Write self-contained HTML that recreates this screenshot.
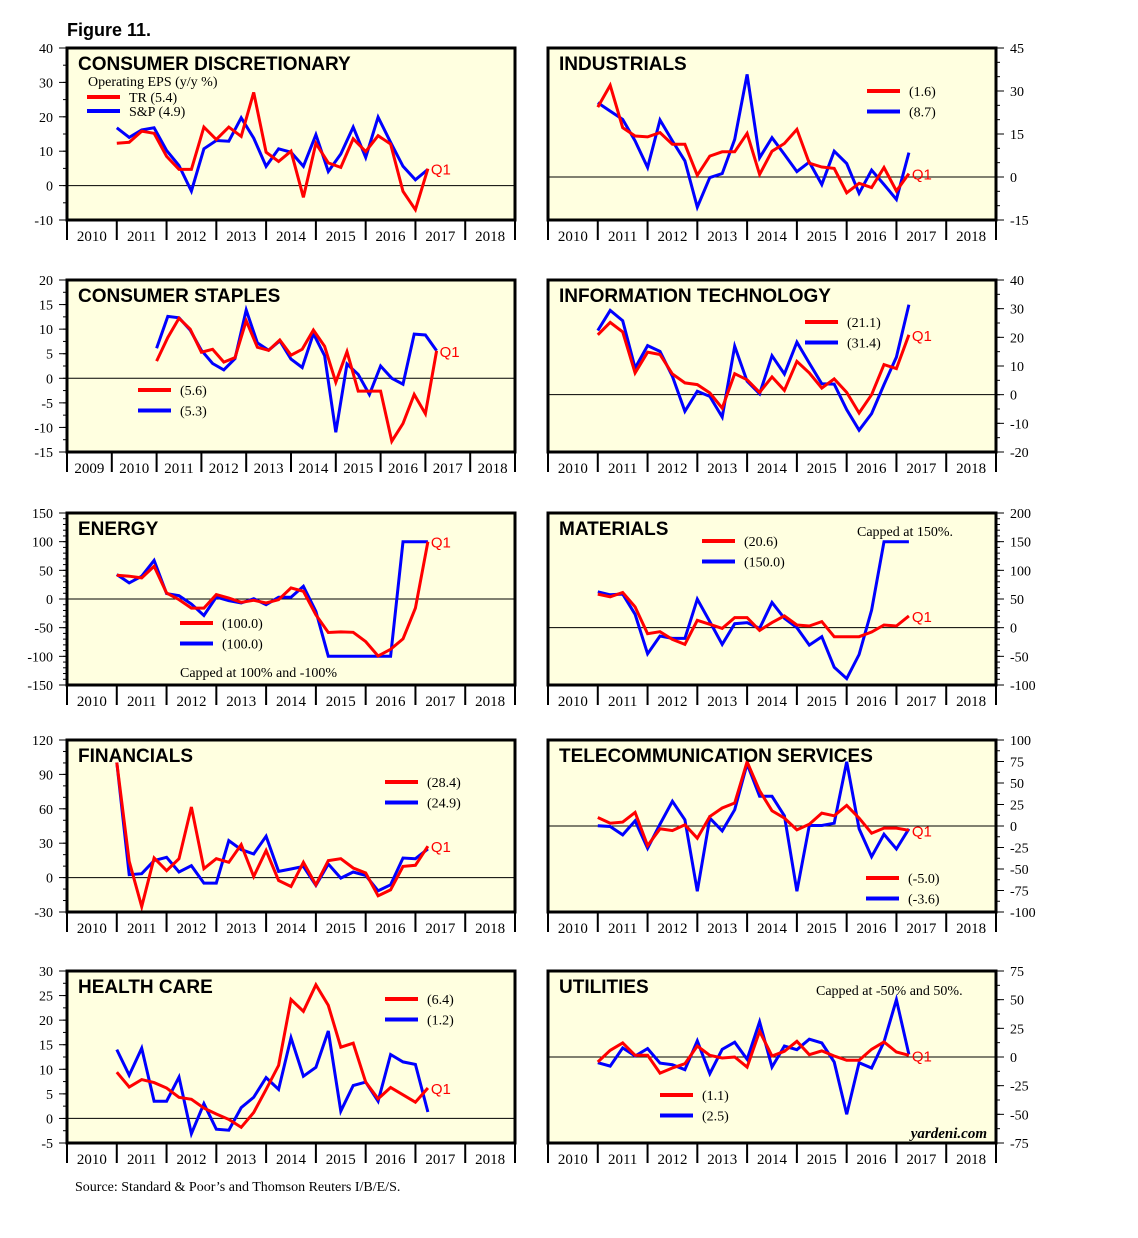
<!DOCTYPE html>
<html><head><meta charset="utf-8"><style>
body{margin:0;background:#fff}
svg text{font-family:"Liberation Serif",serif}
svg text.t{font-family:"Liberation Sans",sans-serif;font-weight:bold;font-size:19px}
svg text.q{font-family:"Liberation Sans",sans-serif;font-size:15px}
</style></head><body>
<svg id="fig" width="1138" height="1233" viewBox="0 0 1138 1233" xmlns="http://www.w3.org/2000/svg">
<rect width="1138" height="1233" fill="#fff"/>
<text x="67" y="36" class="t" style="font-size:18px">Figure 11.</text>
<text x="75" y="1191" font-size="14">Source: Standard &amp; Poor’s and Thomson Reuters I/B/E/S.</text>
</svg>
<script>
// quarterly data, first point 2011.0, step 0.25
const cdTR=[12.3,12.6,15.8,15.2,8.5,4.7,4.7,17,13.4,17,14.3,27.1,9.7,7,10,-3.4,12.3,6.6,5.3,13.6,9.9,14.5,12.1,-1.7,-7,4.9];
const cdSP=[16.8,14,16.2,16.8,10.2,5.8,-1.6,10.7,13.1,12.9,19.7,13.8,5.6,10.7,9.7,5.6,14.8,4.1,9.2,17,8.2,19.9,12.6,5.6,1.7,4.7];
const inTR=[24.4,32,17.2,14.3,14,15.5,11.4,11.4,0.6,7.3,8.8,8.8,15.2,0.9,9,11.7,16.6,4.8,3.5,3,-5.5,-2.2,-3.7,3.3,-4.9,1.2];
const inSP=[25.9,23,20.1,12.6,3.3,19.9,12.6,5.6,-10.5,-0.2,1.2,13.1,35.8,6.7,13.7,7.9,1.9,5.2,-2.6,9,4.7,-5.7,2.4,-2.6,-7.8,8.5];
const csTR=[3.5,8.3,12.2,10,5.3,5.9,3.3,4.2,11.7,6.3,5.7,7.8,4.7,5.9,9.8,6.5,-0.8,5.4,-2.6,-2.6,-2.6,-12.8,-9.2,-3.3,-7.2,5.6];
const csSP=[6.1,12.6,12.3,9.8,5.7,3,1.7,4,13.9,7.2,5.7,7.6,3.9,2.2,9.1,4.6,-11,2.9,0.8,-3.3,2.5,0,-1.2,9,8.8,5.6];
const itTR=[20.9,25.2,21.9,7.6,14.8,14,7.2,4.1,3.5,0.6,-4.7,7.3,5.2,0.8,6.2,1.5,11.6,7.6,2.3,5.5,0.8,-6.4,0,10.5,9.1,20.9];
const itSP=[22.4,29.4,25.8,9.3,17.1,15.1,6.4,-5.8,1.2,-0.6,-7.8,16.9,4.7,0.3,13.6,7.2,18.3,11,3.8,3.7,-5.2,-12.4,-6.6,3.5,13.1,31.4];
const enTR=[41.5,39.8,36.8,57,10.5,-1,-15.8,-15.8,7.6,1.8,-5.8,-2.3,-7,-1.2,19.3,13.5,-27.5,-58.5,-57.3,-58,-74.3,-99.4,-87.7,-69.6,-15.8,100];
const enSP=[42.7,28,39.8,67.3,9.4,5.8,-8.8,-28.7,3.5,-2.9,-7,0.6,-10,2.9,2.9,22.2,-21.6,-100,-100,-100,-100,-100,-100,100,100,100];
const maTR=[58.5,53.8,61.4,36.3,-10.5,-7,-20.5,-29.2,12.9,5.8,-1.2,17.5,17.5,-4.7,8.8,20.5,4.7,2.9,10.5,-15.8,-15.8,-15.8,-7.6,4.7,2.9,20.5];
const maSP=[62.6,57.3,58.5,23.4,-45.6,-14.6,-18.7,-18.7,49.7,10.5,-29.2,7,8.8,-1.2,43.9,16.4,0,-30.4,-15.8,-69,-88.9,-46.8,30.4,150,150,150];
const fiTR=[100.4,14.2,-25.3,17.1,6,16.5,61.6,7.8,16.5,13.3,28.8,1,23.6,-2.5,-7.8,13.3,-6.3,14.8,16.5,8.4,4,-15.9,-10.6,9.8,10.7,27.4];
const fiSP=[100.4,2.5,3.4,14.8,17.7,4.9,10.4,-4.8,-4.8,32.3,24.4,20.6,36.1,5.4,7.5,9.8,-6.8,11.9,-0.4,4.9,1.9,-11.5,-6.3,17.1,16.5,25];
const teTR=[9.9,3.3,4.5,15.8,-22.8,-3.3,-5.3,1.4,-14.2,11.1,20.9,26.7,74.7,41.1,17.7,9.2,-4.5,2.1,15,11.9,24,9.2,-8.4,-2.5,-2.5,-5];
const teSP=[0.2,-0.6,-10.3,6,-25.9,2.1,28.7,7.2,-75.8,9.2,-5.7,18.9,72.3,34.5,34.5,11.9,-75.8,0.6,0.6,3.3,74.7,-3.3,-35.7,-9.6,-26.7,-3.3];
const hcTR=[9.4,6.4,7.9,7.3,6.2,4.3,3.9,2.1,0.9,-0.2,-1.8,1.2,5.9,10.8,24.2,21.8,27.2,23,14.5,15.3,7.4,4,6.3,4.8,3.3,6.2];
const hcSP=[14,8.8,14.3,3.5,3.5,8.4,-3.1,3,-2.2,-2.4,2.2,4.3,8.3,5.9,16.4,8.6,10.4,17.8,1.5,6.7,7.4,3.5,13,11.5,11,1.3];
const utTR=[-4.4,5.8,12.3,1.5,1.5,-14,-9.6,-5.8,9.6,1.5,-0.9,0,-8.8,22.5,0.9,5,13.7,2,5.3,0.9,-2.9,-2.9,6.7,13.2,4.4,1.5];
const utSP=[-5,-7.9,7.9,0.9,7.3,-5.3,-6.7,-11.1,14,-14.6,6.7,12.9,-2,30.7,-8.8,9.6,6.4,15.5,12.3,-4.4,-50,-5,-9.6,13.2,50,2.3];
const yearsA=["2010","2011","2012","2013","2014","2015","2016","2017","2018"];
const yearsB=["2009","2010","2011","2012","2013","2014","2015","2016","2017","2018"];
const cdTicks=[40,30,20,10,0,-10];
const inTicks=[45,30,15,0,-15];
const csTicks=[20,15,10,5,0,-5,-10,-15];
const itTicks=[40,30,20,10,0,-10,-20];
const enTicks=[150,100,50,0,-50,-100,-150];
const maTicks=[200,150,100,50,0,-50,-100];
const fiTicks=[120,90,60,30,0,-30];
const teTicks=[100,75,50,25,0,-25,-50,-75,-100];
const hcTicks=[30,25,20,15,10,5,0,-5];
const utTicks=[75,50,25,0,-25,-50,-75];
const legCD=["TR (5.4)","S&P (4.9)"],legIN=["(1.6)","(8.7)"],legCS=["(5.6)","(5.3)"],legIT=["(21.1)","(31.4)"],legEN=["(100.0)","(100.0)"],legMA=["(20.6)","(150.0)"],legFI=["(28.4)","(24.9)"],legTE=["(-5.0)","(-3.6)"],legHC=["(6.4)","(1.2)"],legUT=["(1.1)","(2.5)"];

const svg=document.getElementById('fig');
const NS="http://www.w3.org/2000/svg";
function mk(tag,at,parent){const e=document.createElementNS(NS,tag);for(const k in at)e.setAttribute(k,at[k]);(parent||svg).appendChild(e);return e;}
const panels=[
 {id:'consumer-discretionary',title:'CONSUMER DISCRETIONARY',x:67,y:48,side:'L',min:-10,max:40,minor:5,ticks:cdTicks,years:yearsA,start:2010,red:cdTR,blue:cdSP,leg:legCD,lx:87,ly:97,lsp:14,extra:[[88,86,'Operating EPS (y/y %)']]},
 {id:'industrials',title:'INDUSTRIALS',x:548,y:48,side:'R',min:-15,max:45,minor:5,ticks:inTicks,years:yearsA,start:2010,red:inTR,blue:inSP,leg:legIN,lx:867,ly:91},
 {id:'consumer-staples',title:'CONSUMER STAPLES',x:67,y:280,side:'L',min:-15,max:20,minor:2.5,ticks:csTicks,years:yearsB,start:2009,red:csTR,blue:csSP,leg:legCS,lx:138,ly:390},
 {id:'information-technology',title:'INFORMATION TECHNOLOGY',x:548,y:280,side:'R',min:-20,max:40,minor:5,ticks:itTicks,years:yearsA,start:2010,red:itTR,blue:itSP,leg:legIT,lx:805,ly:322},
 {id:'energy',title:'ENERGY',x:67,y:513,side:'L',min:-150,max:150,minor:10,ticks:enTicks,years:yearsA,start:2010,red:enTR,blue:enSP,leg:legEN,lx:180,ly:623,extra:[[180,677,'Capped at 100% and -100%']]},
 {id:'materials',title:'MATERIALS',x:548,y:513,side:'R',min:-100,max:200,minor:10,ticks:maTicks,years:yearsA,start:2010,red:maTR,blue:maSP,leg:legMA,lx:702,ly:541,extra:[[857,536,'Capped at 150%.']]},
 {id:'financials',title:'FINANCIALS',x:67,y:740,side:'L',min:-30,max:120,minor:10,ticks:fiTicks,years:yearsA,start:2010,red:fiTR,blue:fiSP,leg:legFI,lx:385,ly:782},
 {id:'telecommunication-services',title:'TELECOMMUNICATION SERVICES',x:548,y:740,side:'R',min:-100,max:100,minor:12.5,ticks:teTicks,years:yearsA,start:2010,red:teTR,blue:teSP,leg:legTE,lx:866,ly:878},
 {id:'health-care',title:'HEALTH CARE',x:67,y:971,side:'L',min:-5,max:30,minor:2.5,ticks:hcTicks,years:yearsA,start:2010,red:hcTR,blue:hcSP,leg:legHC,lx:385,ly:999},
 {id:'utilities',title:'UTILITIES',x:548,y:971,side:'R',min:-75,max:75,minor:12.5,ticks:utTicks,years:yearsA,start:2010,red:utTR,blue:utSP,leg:legUT,lx:660,ly:1095,extra:[[816,995,'Capped at -50% and 50%.']]}
];
const W=448,H=172;
panels.forEach(p=>{
 const g=mk('g',{});
 
 
 const ny=p.years.length;
 const xs=t=>p.x+(t-p.start)*W/ny;
 const ys=v=>p.y+H-(v-p.min)/(p.max-p.min)*H;
 const bg=mk('rect',{x:p.x,y:p.y,width:W,height:H,fill:'#ffffe0'},g);
 
 
 const z=mk('line',{x1:p.x,x2:p.x+W,y1:ys(0),y2:ys(0),stroke:'#000','stroke-width':1},g);
 
 
 const ax=p.side==='L'?p.x:p.x+W, dir=p.side==='L'?-1:1;
 for(let v=p.min;v<=p.max+1e-9;v+=p.minor){mk('line',{x1:ax,x2:ax+dir*4,y1:ys(v),y2:ys(v),stroke:'#000','stroke-width':1},g);}
 p.ticks.forEach(v=>{
  mk('line',{x1:ax,x2:ax+dir*8,y1:ys(v),y2:ys(v),stroke:'#000','stroke-width':1},g);
  const t=mk('text',{x:p.side==='L'?53:1010,y:ys(v)+5,'font-size':14,'text-anchor':p.side==='L'?'end':'start'},g);
  t.textContent=String(v);
  
  
 });
 for(let i=0;i<=ny;i++){mk('line',{x1:xs(p.start+i),x2:xs(p.start+i),y1:p.y+H,y2:p.y+H+20,stroke:'#000','stroke-width':2},g);}
 p.years.forEach((yr,i)=>{
  const t=mk('text',{x:xs(p.start+i+0.5),y:p.y+H+21,'font-size':15,'text-anchor':'middle'},g);
  t.textContent=yr;
  
  
 });
 [[p.blue,'#0000ff','sp-series'],[p.red,'#ff0000','tr-series']].forEach(([d,c,n])=>{
  const pts=d.map((v,i)=>xs(2011+i*0.25).toFixed(1)+','+ys(v).toFixed(1)).join(' ');
  const l=mk('polyline',{points:pts,fill:'none',stroke:c,'stroke-width':3,'stroke-linejoin':'miter'},g);
  
  
 });
 const last=p.red.length-1;
 const q=mk('text',{x:xs(2011+last*0.25)+3,y:ys(p.red[last])+6,fill:'#ff0000',class:'q'},g);
 q.textContent='Q1';
 
 
 const b=mk('rect',{x:p.x,y:p.y,width:W,height:H,fill:'none',stroke:'#000','stroke-width':3},g);
 
 
 const tt=mk('text',{x:p.x+11,y:p.y+22,class:'t'},g);
 tt.textContent=p.title;
 
 
 const sp=p.lsp||20.5;
 [['#ff0000',p.leg[0]],['#0000ff',p.leg[1]]].forEach(([c,s],i)=>{
  const yy=p.ly+i*sp;
  const ln=mk('line',{x1:p.lx,x2:p.lx+33,y1:yy,y2:yy,stroke:c,'stroke-width':4},g);
  
  
  const t=mk('text',{x:p.lx+42,y:yy+5,'font-size':14},g);
  t.textContent=s;
  
  
 });
 (p.extra||[]).forEach(e=>{
  const t=mk('text',{x:e[0],y:e[1],'font-size':14},g);
  t.textContent=e[2];
  
  
 });
});
const yd=mk('text',{x:987,y:1138,'font-size':15,'font-style':'italic','font-weight':'bold','text-anchor':'end'});
yd.textContent='yardeni.com';


</script>
</body></html>
